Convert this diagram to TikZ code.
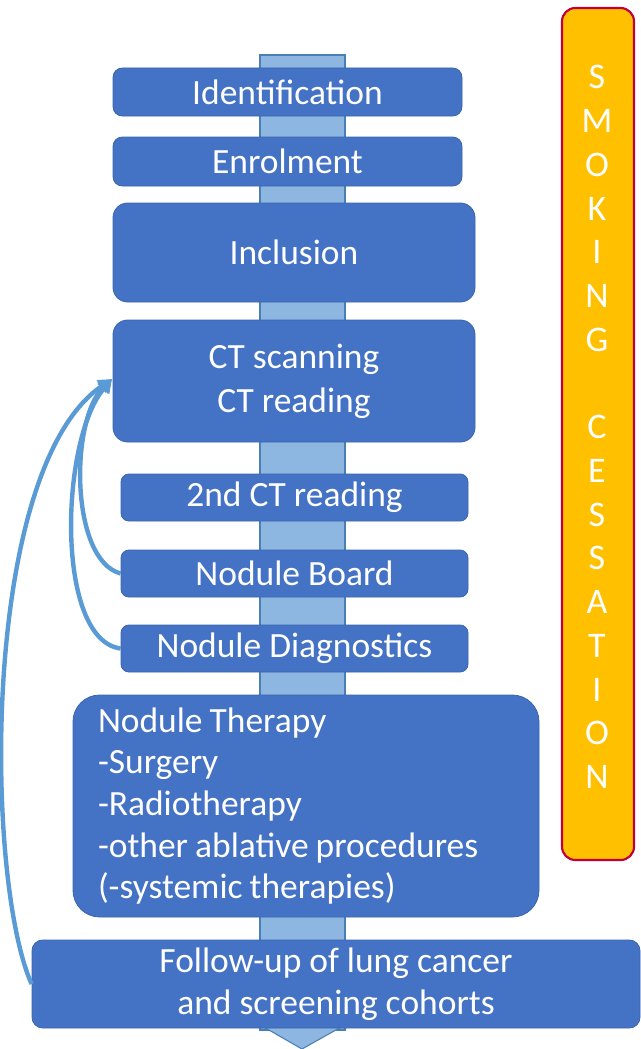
\documentclass[tikz,border=0pt]{standalone}
\usepackage{fontspec}
\setmainfont{Carlito}
\usetikzlibrary{arrows.meta}
\definecolor{boxblue}{HTML}{4472C4}
\definecolor{boxedge}{HTML}{3A64B0}
\definecolor{barblue}{HTML}{8DB6E0}
\definecolor{baredge}{HTML}{4A7FB5}
\definecolor{arrowblue}{HTML}{5B9BD5}
\definecolor{smokefill}{HTML}{FFC000}
\definecolor{smokeedge}{HTML}{C0003C}
\begin{document}
\begin{tikzpicture}[x=0.75pt,y=-0.75pt,
  stage/.style={draw=boxedge, line width=0.6pt, fill=boxblue, text=white,
    inner sep=0pt, align=center, font=\fontsize{26.6}{31.5}\selectfont},
  bar/.style={draw=baredge, line width=0.8pt, fill=barblue},
  back/.style={draw=arrowblue, line width=3.3pt,
    -{Triangle[length=10pt,width=11pt]}},
  smokebox/.style={draw=smokeedge, line width=1.6pt, fill=smokefill, rounded corners=10pt},
  smoketext/.style={text=white, align=center, font=\fontsize{27}{32.8}\selectfont, inner sep=0pt}]
\useasboundingbox (0,0) rectangle (641,1049);
% central bar and downward head
\draw[bar] (260,55) rectangle (345,1030);
\draw[bar] (262,1026) -- (343,1026) -- (302,1049) -- cycle;
\fill[barblue] (280,1024) rectangle (323,1028);
% stages
\node[stage, rounded corners=7pt, minimum width={349*0.75pt}, minimum height={48*0.75pt}] (id) at (287.5,92) {Identification};
\node[stage, rounded corners=7pt, minimum width={349*0.75pt}, minimum height={49*0.75pt}] (en) at (287.5,161.5) {Enrolment};
\node[stage, rounded corners=11pt, minimum width={362*0.75pt}, minimum height={99*0.75pt}] (in) at (294,252.5) {Inclusion};
\node[stage, rounded corners=11pt, minimum width={362*0.75pt}, minimum height={122*0.75pt},
  font=\fontsize{26.6}{33}\selectfont] (ct) at (294,381) {CT scanning\\CT reading};
\node[stage, rounded corners=6pt, minimum width={347*0.75pt}, minimum height={47*0.75pt}] (sr) at (294.5,497.5) {2nd CT reading};
\node[stage, rounded corners=6pt, minimum width={347*0.75pt}, minimum height={47*0.75pt}] (nb) at (294.5,573.5) {Nodule Board};
\node[stage, rounded corners=6pt, minimum width={347*0.75pt}, minimum height={47*0.75pt}] (nd) at (294.5,648.5) {Nodule Diagnostics};
\node[stage, rounded corners=20pt, minimum width={466*0.75pt}, minimum height={222*0.75pt},
  align=left, text width={416*0.75pt}, inner xsep={25*0.75pt},
  font=\fontsize{26.6}{31.2}\selectfont] (nt) at (306,806)
  {\spaceskip=0.2em plus 0.1em\relax Nodule Therapy\\-Surgery\\-Radiotherapy\\-other ablative procedures\\(-systemic therapies)};
\node[stage, rounded corners=8pt, minimum width={608*0.75pt}, minimum height={88*0.75pt}] (fu) at (336,984) {Follow-up of lung cancer\\and screening cohorts};
% smoking cessation
\node[smokebox, minimum width={72*0.75pt}, minimum height={852*0.75pt}] (sc) at (598,434) {};
\node[smoketext] (sctext) at (597,427) {S\\M\\O\\K\\I\\N\\G\\\strut\\C\\E\\S\\S\\A\\T\\I\\O\\N};
% feedback arrows
\coordinate (tip) at (112,379);
\draw[back] (fu.west) .. controls (-15,880) and (-20,470) .. (tip);
\draw[back] (nb.west) .. controls (70,560) and (70,420) .. (tip);
\draw[back] (nd.west) .. controls (55,640) and (60,440) .. (tip);
\end{tikzpicture}
\end{document}
